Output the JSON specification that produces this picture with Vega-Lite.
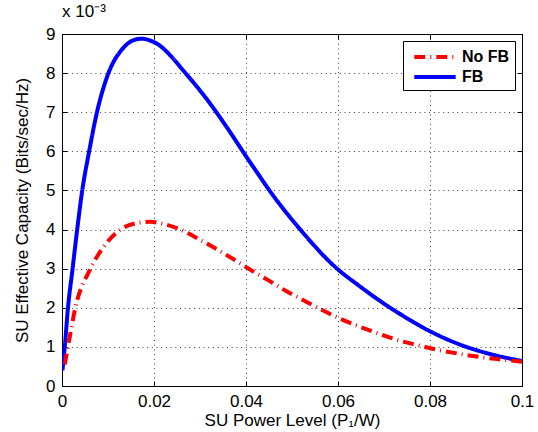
{
  "$schema": "https://vega.github.io/schema/vega-lite/v6.json",
  "width": 460,
  "height": 352,
  "autosize": "none",
  "padding": {"left": 62, "top": 34, "right": 16, "bottom": 46},
  "background": "white",
  "title": {"text": "x 10⁻³", "anchor": "start", "frame": "group", "offset": 4, "fontSize": 17, "fontWeight": "normal", "font": "Liberation Sans", "color": "black", "dx": 0},
  "config": {
    "view": {"stroke": "black", "strokeWidth": 1},
    "font": "Liberation Sans",
    "axis": {
      "domainColor": "black",
      "tickColor": "black",
      "labelColor": "black",
      "titleColor": "black",
      "labelFont": "Liberation Sans",
      "titleFont": "Liberation Sans",
      "labelFontSize": 17,
      "titleFontSize": 17,
      "titleFontWeight": "normal"
    }
  },
  "data": {
    "values": [
      {"x": 0.0001, "y": 0.40, "s": "FB"},
      {"x": 0.0006, "y": 1.0, "s": "FB"},
      {"x": 0.0013, "y": 2.0, "s": "FB"},
      {"x": 0.0023, "y": 3.0, "s": "FB"},
      {"x": 0.0033, "y": 4.0, "s": "FB"},
      {"x": 0.0044, "y": 5.0, "s": "FB"},
      {"x": 0.0059, "y": 6.0, "s": "FB"},
      {"x": 0.0076, "y": 7.0, "s": "FB"},
      {"x": 0.0101, "y": 8.0, "s": "FB"},
      {"x": 0.013, "y": 8.6, "s": "FB"},
      {"x": 0.0155, "y": 8.84, "s": "FB"},
      {"x": 0.0173, "y": 8.88, "s": "FB"},
      {"x": 0.019, "y": 8.84, "s": "FB"},
      {"x": 0.0213, "y": 8.70, "s": "FB"},
      {"x": 0.0238, "y": 8.42, "s": "FB"},
      {"x": 0.0264, "y": 8.06, "s": "FB"},
      {"x": 0.029, "y": 7.70, "s": "FB"},
      {"x": 0.0315, "y": 7.33, "s": "FB"},
      {"x": 0.0358, "y": 6.62, "s": "FB"},
      {"x": 0.0402, "y": 5.84, "s": "FB"},
      {"x": 0.0424, "y": 5.46, "s": "FB"},
      {"x": 0.0451, "y": 5.0, "s": "FB"},
      {"x": 0.0518, "y": 4.0, "s": "FB"},
      {"x": 0.0598, "y": 3.0, "s": "FB"},
      {"x": 0.0645, "y": 2.57, "s": "FB"},
      {"x": 0.0692, "y": 2.17, "s": "FB"},
      {"x": 0.0735, "y": 1.84, "s": "FB"},
      {"x": 0.08, "y": 1.40, "s": "FB"},
      {"x": 0.0865, "y": 1.06, "s": "FB"},
      {"x": 0.093, "y": 0.82, "s": "FB"},
      {"x": 0.1, "y": 0.64, "s": "FB"},
      {"x": 0.0006, "y": 0.55, "s": "No FB"},
      {"x": 0.0013, "y": 1.0, "s": "No FB"},
      {"x": 0.0029, "y": 2.0, "s": "No FB"},
      {"x": 0.0062, "y": 3.0, "s": "No FB"},
      {"x": 0.009, "y": 3.55, "s": "No FB"},
      {"x": 0.0127, "y": 4.0, "s": "No FB"},
      {"x": 0.016, "y": 4.16, "s": "No FB"},
      {"x": 0.0193, "y": 4.2, "s": "No FB"},
      {"x": 0.021, "y": 4.17, "s": "No FB"},
      {"x": 0.0253, "y": 4.02, "s": "No FB"},
      {"x": 0.0295, "y": 3.77, "s": "No FB"},
      {"x": 0.0333, "y": 3.52, "s": "No FB"},
      {"x": 0.0373, "y": 3.24, "s": "No FB"},
      {"x": 0.041, "y": 2.97, "s": "No FB"},
      {"x": 0.0449, "y": 2.70, "s": "No FB"},
      {"x": 0.0487, "y": 2.43, "s": "No FB"},
      {"x": 0.0525, "y": 2.19, "s": "No FB"},
      {"x": 0.0605, "y": 1.72, "s": "No FB"},
      {"x": 0.0688, "y": 1.34, "s": "No FB"},
      {"x": 0.0731, "y": 1.17, "s": "No FB"},
      {"x": 0.0775, "y": 1.04, "s": "No FB"},
      {"x": 0.0815, "y": 0.93, "s": "No FB"},
      {"x": 0.0865, "y": 0.82, "s": "No FB"},
      {"x": 0.0909, "y": 0.74, "s": "No FB"},
      {"x": 0.0952, "y": 0.68, "s": "No FB"},
      {"x": 0.1, "y": 0.62, "s": "No FB"}
    ]
  },
  "layer": [
    {
      "mark": {"type": "line", "interpolate": "monotone", "strokeWidth": 4, "clip": true},
      "encoding": {
        "x": {"field": "x", "type": "quantitative", "scale": {"domain": [0, 0.1], "nice": false},
          "axis": {"title": "SU Power Level (P₁/W)", "values": [0, 0.02, 0.04, 0.06, 0.08, 0.1], "format": "~g", "labelPadding": 12, "titlePadding": 3, "labelFlush": false, "ticks": true, "tickSize": -5, "tickWidth": 1, "grid": true, "gridDash": [1, 3.7], "gridColor": "#000000", "gridOpacity": 0.75, "gridWidth": 1}},
        "y": {"field": "y", "type": "quantitative", "scale": {"domain": [0, 9], "nice": false},
          "axis": {"title": "SU Effective Capacity (Bits/sec/Hz)", "values": [0,1,2,3,4,5,6,7,8,9], "labelPadding": 12, "titlePadding": 14, "ticks": true, "tickSize": -5, "tickWidth": 1, "grid": true, "gridDash": [1, 3.7], "gridColor": "#000000", "gridOpacity": 0.75, "gridWidth": 1}},
        "color": {"field": "s", "type": "nominal", "scale": {"domain": ["No FB", "FB"], "range": ["#ff0000", "#0000ff"]},
          "legend": {"title": null, "orient": "top-right", "offset": 7, "strokeColor": "black", "fillColor": "white", "padding": 5, "labelFontSize": 16, "labelFontWeight": "bold", "labelColor": "black", "symbolType": "M-2.3,0H2.3", "symbolSize": 324, "symbolStrokeWidth": 4, "symbolOffset": 16, "labelOffset": 16, "rowPadding": 1, "cornerRadius": 0}},
        "strokeDash": {"field": "s", "type": "nominal", "scale": {"domain": ["No FB", "FB"], "range": [[11, 5, 1, 5], [1, 0]]}, "legend": {"title": null}}
      }
    },
    {
      "mark": {"type": "line", "opacity": 0},
      "encoding": {
        "x": {"field": "x", "type": "quantitative", "axis": {"orient": "top", "labels": false, "grid": false, "title": null, "domain": false, "ticks": true, "tickSize": -5, "tickColor": "black", "values": [0, 0.02, 0.04, 0.06, 0.08, 0.1]}},
        "y": {"field": "y", "type": "quantitative", "axis": {"orient": "right", "labels": false, "grid": false, "title": null, "domain": false, "ticks": true, "tickSize": -5, "tickColor": "black", "values": [0,1,2,3,4,5,6,7,8,9]}},
        "detail": {"field": "s"}
      }
    }
  ],
  "resolve": {"axis": {"x": "independent", "y": "independent"}}
}
